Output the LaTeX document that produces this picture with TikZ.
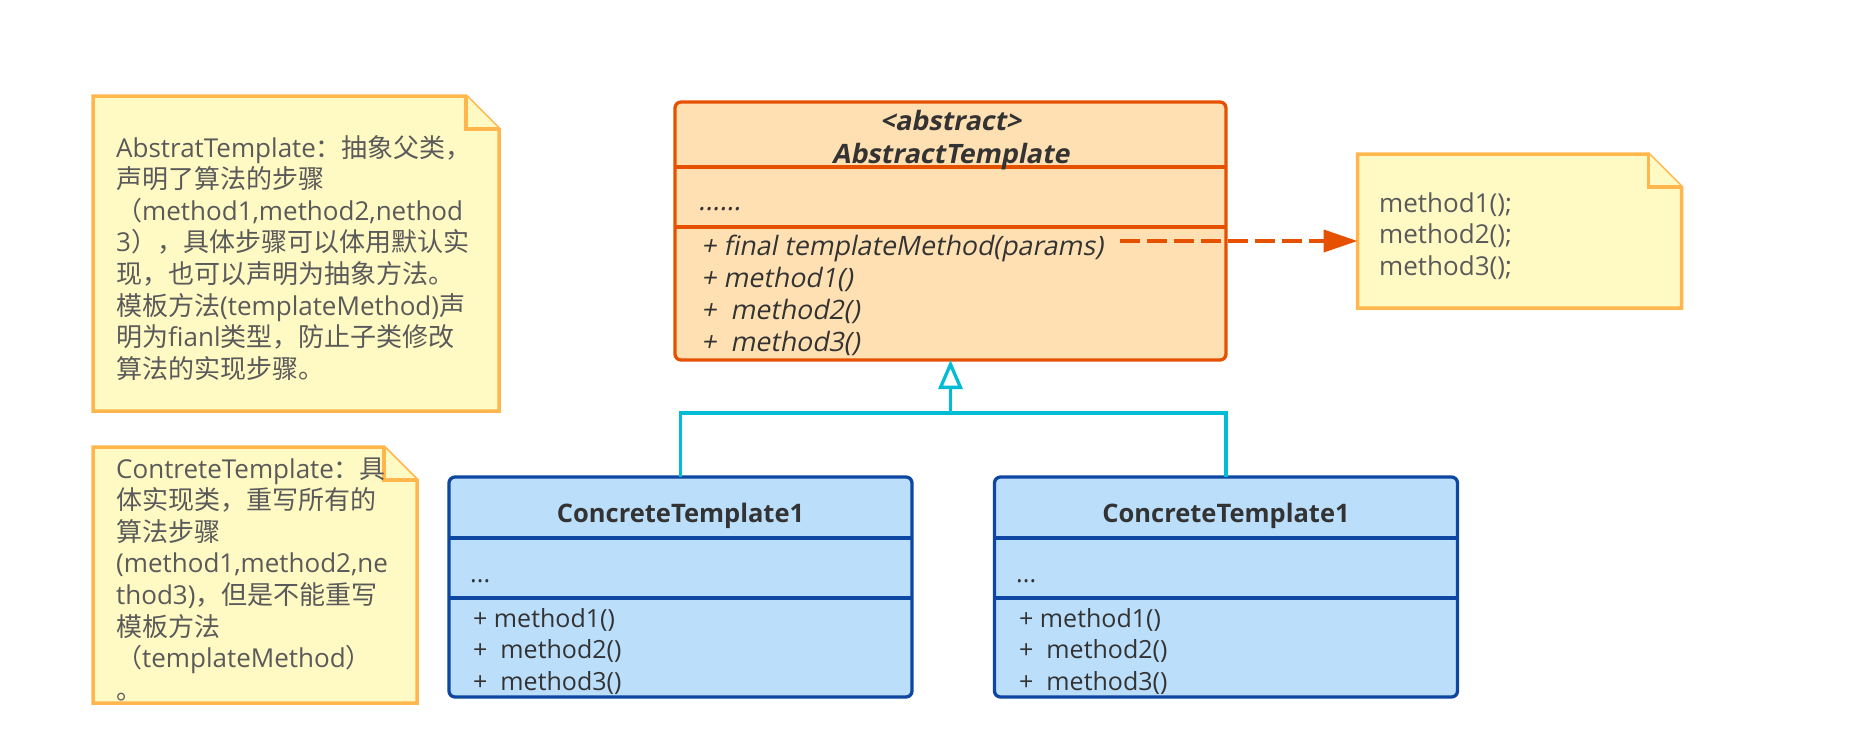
\documentclass[tikz,border=0pt]{standalone}
\usepackage{fontspec}
\setmainfont{Open Sans}
\newfontfamily\cjkfont{Noto Sans CJK SC}
% upright shapes slanted, for the abstract class
\newfontfamily\obliquefont{Open Sans}[FakeSlant=0.2]
\usetikzlibrary{arrows.meta}

\definecolor{noteFill}{HTML}{FFF9C4}
\definecolor{noteLine}{HTML}{FFB74D}
\definecolor{absFill}{HTML}{FFE0B2}
\definecolor{absLine}{HTML}{E65100}
\definecolor{conFill}{HTML}{BBDEFB}
\definecolor{conLine}{HTML}{0D47A1}
\definecolor{linkCyan}{HTML}{00BCD4}
\definecolor{txtDark}{HTML}{333333}
\definecolor{txtNote}{HTML}{5A5A5A}

% Chinese runs inside mixed text
\newcommand\zh[1]{{\cjkfont #1}}

% folded-corner note outline around a named area node
\newcommand\foldnote[1]{%
  \filldraw[noteoutline] (#1.south west) -- (#1.north west)
    -- ([xshift=-33pt]#1.north east) -- ([yshift=-33pt]#1.north east)
    -- (#1.south east) -- cycle;
  \draw[noteoutline] ([xshift=-33pt]#1.north east) |- ([yshift=-33pt]#1.north east);
}

\tikzset{
  area/.style={inner sep=0pt, outer sep=0pt},
  noteoutline/.style={fill=noteFill, draw=noteLine, line width=3.5pt, line join=miter},
  notetext/.style={anchor=base west, inner sep=0pt, text=txtNote,
    font=\fontsize{26}{32}\selectfont},
  absbox/.style={area, draw=absLine, fill=absFill, line width=3.3pt, rounded corners=6pt},
  conbox/.style={area, draw=conLine, fill=conFill, line width=3.3pt, rounded corners=6pt},
  absdiv/.style={draw=absLine, line width=3.3pt},
  condiv/.style={draw=conLine, line width=3.3pt},
  classtext/.style={inner sep=0pt, text=txtDark, font=\fontsize{25}{30}\selectfont},
  abstitle/.style={classtext, anchor=base, font=\obliquefont\fontsize{26.7}{30}\selectfont\bfseries},
  absmember/.style={classtext, anchor=base west, font=\obliquefont\fontsize{26.7}{30}\selectfont},
  contitle/.style={classtext, anchor=base, font=\fontsize{25.5}{30}\selectfont\bfseries},
  conmember/.style={classtext, anchor=base west},
  realize/.style={draw=absLine, line width=4pt, dash pattern=on 20pt off 7pt,
    -{Triangle[length=34pt, width=22pt]}},
  inherit/.style={draw=linkCyan, line width=3.3pt, line join=miter},
}

\begin{document}
\begin{tikzpicture}[x=1pt, y=-1pt]
\useasboundingbox (0,0) rectangle (1853,753);
\fill[white] (0,0) rectangle (1853,753);

% ---- notes ----
\node[area, minimum width=406pt, minimum height=315pt] (note1) at (296,253.5) {};
\foldnote{note1}
\foreach \t [count=\i from 0] in {
  {AbstratTemplate\zh{：抽象父类，}},
  {\zh{声明了算法的步骤}},
  {\zh{（}method1,method2,nethod},
  {3\zh{），具体步骤可以体用默认实}},
  {\zh{现，也可以声明为抽象方法。}},
  {\zh{模板方法}(templateMethod)\zh{声}},
  {\zh{明为}fianl\zh{类型，防止子类修改}},
  {\zh{算法的实现步骤。}}}
  \node[notetext] (note1line\i) at (116, 157+31.6*\i) {\t};

\node[area, minimum width=324pt, minimum height=256pt] (note2) at (255,575) {};
\foldnote{note2}
\foreach \t [count=\i from 0] in {
  {ContreteTemplate\zh{：具}},
  {\zh{体实现类，重写所有的}},
  {\zh{算法步骤}},
  {(method1,method2,ne},
  {thod3)\zh{，但是不能重写}},
  {\zh{模板方法}},
  {\zh{（}templateMethod\zh{）}},
  {\zh{。}}}
  \node[notetext] (note2line\i) at (116, 478+31.6*\i) {\t};

\node[area, minimum width=324pt, minimum height=154pt] (note3) at (1519.5,231) {};
\foldnote{note3}
\foreach \t [count=\i from 0] in {method1();, method2();, method3();}
  \node[notetext] (note3line\i) at (1379, 212+31.6*\i) {\t};

% ---- abstract class ----
\node[absbox, minimum width=551pt, minimum height=258pt] (abs) at (950.5,231) {};
\draw[absdiv] (675,167) -- (1226,167);
\draw[absdiv] (675,227) -- (1226,227);
\node[abstitle] (absStereo) at (950.5,130) {<abstract>};
\node[abstitle] (absName) at (950.5,163) {AbstractTemplate};
\node[absmember] (absAttr) at (698,210) {......};
\foreach \t [count=\i from 0] in {
  {+ final templateMethod(params)}, {+ method1()}, {+\ \ method2()}, {+\ \ method3()}}
  \node[absmember] (absOp\i) at (701, 255+32.3*\i) {\t};

% ---- concrete classes ----
\foreach \n/\cx/\lx in {con1/680.5/449, con2/1226/995} {
  \node[conbox, minimum width=463pt, minimum height=220pt] (\n) at (\cx,587) {};
  \draw[condiv] (\lx,538) -- (\lx+463,538);
  \draw[condiv] (\lx,598) -- (\lx+463,598);
  \node[contitle] (\n Name) at (\cx,522) {ConcreteTemplate1};
  \node[conmember] (\n Attr) at (\lx+21,582) {...};
  \node[conmember] (\n Op1) at (\lx+24,627) {+ method1()};
  \node[conmember] (\n Op2) at (\lx+24,658.5) {+\ \ method2()};
  \node[conmember] (\n Op3) at (\lx+24,690) {+\ \ method3()};
}

% ---- connectors ----
\coordinate (tmCall) at (1120,241);
\draw[realize] (tmCall) -- (tmCall -| note3.west);

\coordinate (joint) at (950.5,413);
\draw[inherit] (con1.north) |- (joint) -| (con2.north);
\draw[inherit, -{Triangle[open, length=29pt, width=24pt]}] (joint) -- (abs.south);
\end{tikzpicture}
\end{document}
